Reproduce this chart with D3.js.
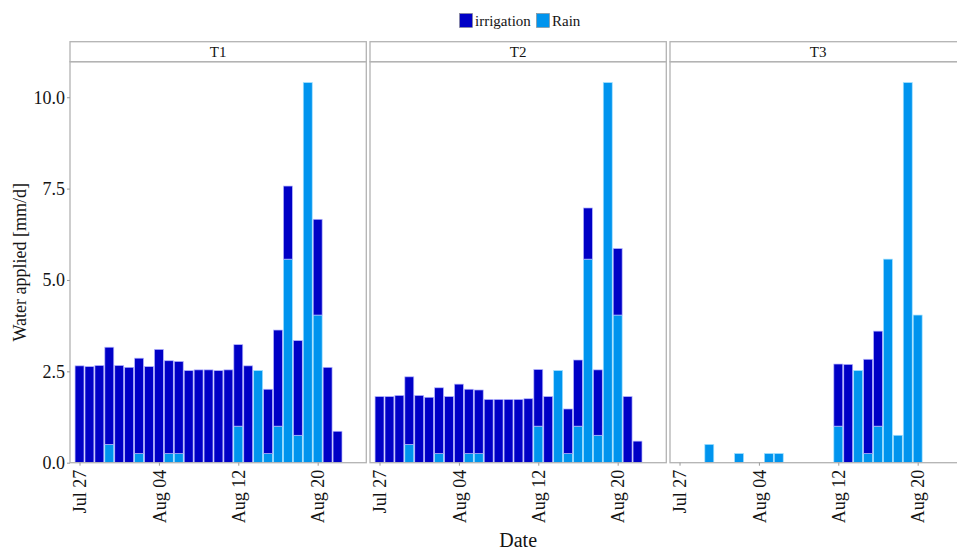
<!DOCTYPE html>
<html>
<head>
<meta charset="utf-8">
<script src="https://cdn.jsdelivr.net/npm/d3@7"></script>
<style>
  html, body { margin: 0; padding: 0; background: #fff; }
  svg { display: block; font-family: "Liberation Serif", "DejaVu Serif", serif; }
</style>
</head>
<body>
<svg id="chart" width="957" height="550"></svg>
<script>
// Daily dates, Jul 27 – Aug 22
const dates = ["2016-07-27","2016-07-28","2016-07-29","2016-07-30","2016-07-31",
  "2016-08-01","2016-08-02","2016-08-03","2016-08-04","2016-08-05","2016-08-06",
  "2016-08-07","2016-08-08","2016-08-09","2016-08-10","2016-08-11","2016-08-12",
  "2016-08-13","2016-08-14","2016-08-15","2016-08-16","2016-08-17","2016-08-18",
  "2016-08-19","2016-08-20","2016-08-21","2016-08-22"];

// Rain is common to every treatment (mm/d)
const rain = [0, 0, 0, 0.5, 0, 0, 0.25, 0, 0, 0.25, 0.25, 0, 0, 0, 0, 0,
  1.0, 0, 2.52, 0.25, 1.0, 5.57, 0.75, 10.4, 4.04, 0, 0];

// Irrigation per treatment (mm/d)
const irrigationT1 = [2.65, 2.63, 2.66, 2.66, 2.66, 2.61, 2.61, 2.63, 3.10, 2.54, 2.52,
  2.52, 2.54, 2.54, 2.52, 2.54, 2.23, 2.65, 0, 1.76, 2.63, 2.0, 2.59, 0, 2.62, 2.61, 0.86];
const irrigationT2 = [1.81, 1.81, 1.84, 1.85, 1.84, 1.79, 1.80, 1.81, 2.15, 1.76, 1.74,
  1.73, 1.73, 1.73, 1.73, 1.75, 1.55, 1.81, 0, 1.22, 1.81, 1.40, 1.79, 0, 1.82, 1.81, 0.59];
const irrigationT3 = [0, 0, 0, 0, 0, 0, 0, 0, 0, 0, 0, 0, 0, 0, 0, 0,
  1.70, 2.69, 0, 2.58, 2.60, 0, 0, 0, 0, 0, 0];

const treatments = ["T1", "T2", "T3"];
const irrigation = [irrigationT1, irrigationT2, irrigationT3];

const seriesNames = ["irrigation", "Rain"];
const seriesColors = ["#0000c6", "#0094ee"];

const yTicks = [0, 2.5, 5, 7.5, 10];
const xTickDates = ["2016-07-27", "2016-08-04", "2016-08-12", "2016-08-20"];

// ---- layout ----
const svg = d3.select("#chart");
const panelTop = 61.7, panelBottom = 462.7;
const stripTop = 41.7;
const panelW = 296.3, panelGap = 3.7, firstPanelX = 70;

const parse = d3.utcParse("%Y-%m-%d");
const day = 86400000;
const t0 = parse("2016-07-27").getTime();

const x = d3.scaleUtc()
  .domain([new Date(t0 - 0.96 * day), new Date(t0 + 28.9 * day)])
  .range([0, panelW]);
const step = x(new Date(t0 + day)) - x(new Date(t0));
const barW = step * 0.9;

const yMax = 10.45 * 1.05;
const y = d3.scaleLinear().domain([0, yMax]).range([panelBottom, panelTop]);

const textColor = "#141414";
const borderColor = "#b3b3b3";

treatments.forEach((name, i) => {
  const px = firstPanelX + i * (panelW + panelGap);
  const g = svg.append("g").attr("transform", `translate(${px},0)`);

  // strip
  g.append("rect")
    .attr("x", 0).attr("y", stripTop)
    .attr("width", panelW).attr("height", panelTop - stripTop)
    .attr("fill", "#fff").attr("stroke", borderColor).attr("stroke-width", 1.3);
  g.append("text")
    .attr("x", panelW / 2).attr("y", (stripTop + panelTop) / 2 + 5)
    .attr("text-anchor", "middle").attr("font-size", 15).attr("fill", textColor)
    .text(name);

  // stacked bars: rain at the bottom, irrigation above
  const rows = dates.map((d, k) => ({ date: parse(d), rain: rain[k], irr: irrigation[i][k] }));
  const bars = g.append("g");
  rows.forEach(r => {
    const cx = x(r.date);
    if (r.rain > 0) {
      bars.append("rect")
        .attr("x", cx - barW / 2).attr("width", barW)
        .attr("y", y(r.rain)).attr("height", y(0) - y(r.rain))
        .attr("fill", seriesColors[1]).attr("stroke", "#9fe0ff").attr("stroke-width", 0.7);
    }
    if (r.irr > 0) {
      bars.append("rect")
        .attr("x", cx - barW / 2).attr("width", barW)
        .attr("y", y(r.rain + r.irr)).attr("height", y(r.rain) - y(r.rain + r.irr))
        .attr("fill", seriesColors[0]).attr("stroke", "#b4b4ff").attr("stroke-width", 0.7);
    }
  });

  // panel border
  g.append("rect")
    .attr("x", 0).attr("y", panelTop)
    .attr("width", panelW).attr("height", panelBottom - panelTop)
    .attr("fill", "none").attr("stroke", borderColor).attr("stroke-width", 1.3);

  // x axis
  const xAxis = d3.axisBottom(x)
    .tickValues(xTickDates.map(parse))
    .tickFormat(d3.utcFormat("%b %d"))
    .tickSize(3).tickPadding(4);
  const xa = g.append("g").attr("transform", `translate(0,${panelBottom})`).call(xAxis);
  xa.select(".domain").remove();
  xa.selectAll(".tick line").attr("stroke", "#999");
  xa.selectAll(".tick text")
    .attr("transform", "rotate(-90)")
    .attr("x", -7).attr("y", 0).attr("dy", "0.35em")
    .attr("text-anchor", "end")
    .attr("font-size", 18).attr("font-family", "Liberation Serif, serif")
    .attr("fill", textColor);

  // y axis on the first panel only
  if (i === 0) {
    const yAxis = d3.axisLeft(y).tickValues(yTicks).tickFormat(d3.format(".1f"))
      .tickSize(3).tickPadding(2);
    const ya = g.append("g").call(yAxis);
    ya.select(".domain").remove();
    ya.selectAll(".tick line").attr("stroke", "#999");
    ya.selectAll(".tick text")
      .attr("font-size", 18).attr("font-family", "Liberation Serif, serif")
      .attr("fill", textColor);
  }
});

// axis titles
svg.append("text")
  .attr("transform", `translate(26,${(panelTop + panelBottom) / 2}) rotate(-90)`)
  .attr("text-anchor", "middle").attr("font-size", 18).attr("fill", textColor)
  .text("Water applied [mm/d]");
svg.append("text")
  .attr("x", firstPanelX + (3 * panelW + 2 * panelGap) / 2).attr("y", 547)
  .attr("text-anchor", "middle").attr("font-size", 20).attr("fill", textColor)
  .text("Date");

// legend
const legend = svg.append("g");
const legendItems = [
  { name: seriesNames[0], color: seriesColors[0], bx: 459.5, tx: 475 },
  { name: seriesNames[1], color: seriesColors[1], bx: 536.5, tx: 552 }
];
legendItems.forEach(it => {
  legend.append("rect")
    .attr("x", it.bx).attr("y", 13.5).attr("width", 13).attr("height", 14)
    .attr("fill", it.color).attr("stroke", "#8a8a8a").attr("stroke-width", 0.6);
  legend.append("text")
    .attr("x", it.tx).attr("y", 25.5)
    .attr("font-size", 15).attr("fill", textColor)
    .text(it.name);
});
</script>
</body>
</html>
